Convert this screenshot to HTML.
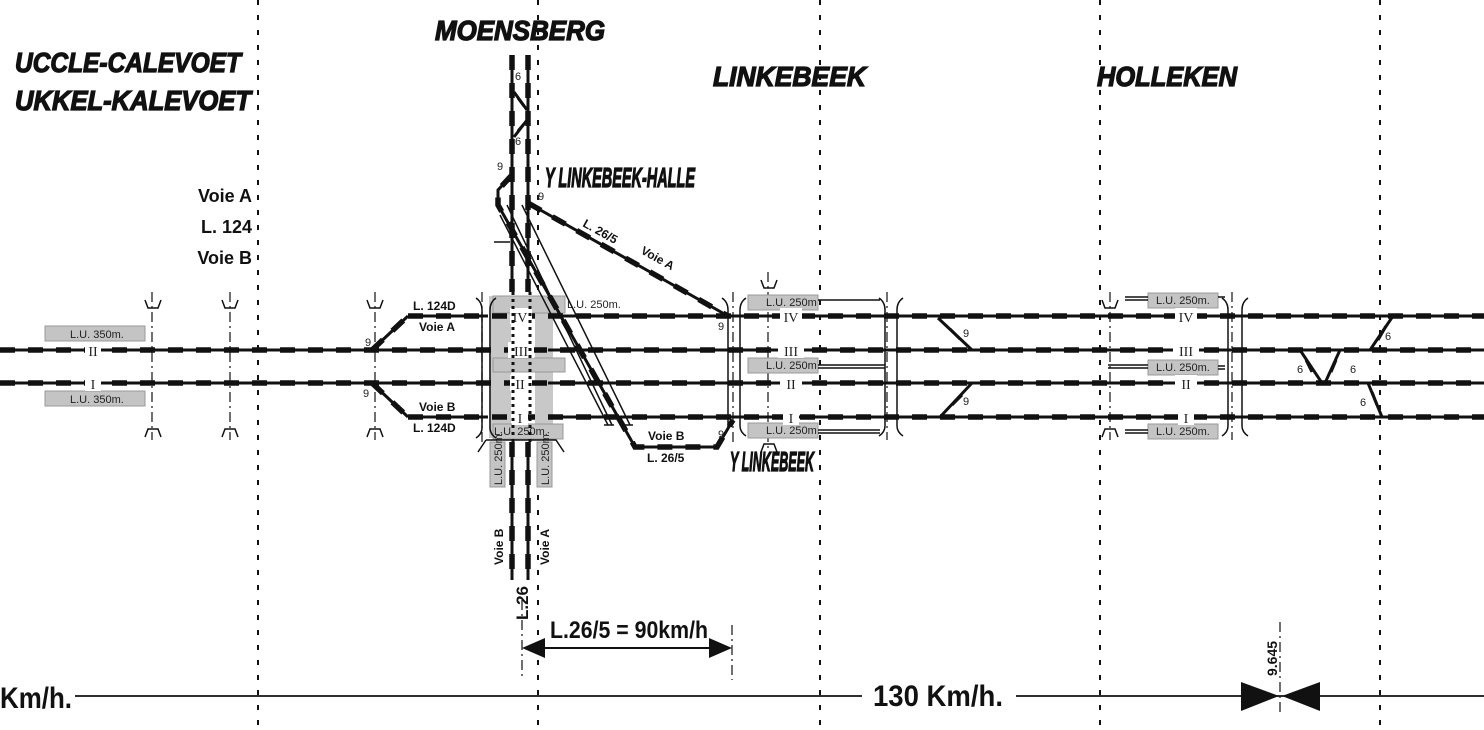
<!DOCTYPE html>
<html><head><meta charset="utf-8"><style>
html,body{margin:0;padding:0;background:#fff}
svg{display:block}
.t{stroke:#111;stroke-width:3;fill:none}
.d{stroke:#111;stroke-width:5.5;stroke-dasharray:15 13;fill:none}
.sec{stroke:#111;stroke-width:2;stroke-dasharray:5 10;fill:none}
.dd{stroke:#222;stroke-width:1.3;stroke-dasharray:10 4 2 4;fill:none}
.th{stroke:#111;stroke-width:1.5;fill:none}
.ttl{font-family:"Liberation Sans",sans-serif;font-weight:bold;font-style:italic;font-size:28px;fill:#111;stroke:#111;stroke-width:1.3}
.lb{font-family:"Liberation Sans",sans-serif;font-weight:bold;fill:#111}
.sm{font-family:"Liberation Sans",sans-serif;fill:#222;font-size:11px}
.rn{font-family:"Liberation Serif",serif;fill:#222;font-size:14px}
.gb{fill:#c4c4c4;stroke:#999;stroke-width:1}
</style></head><body>
<svg width="1484" height="730" viewBox="0 0 1484 730" xmlns="http://www.w3.org/2000/svg">
<g class="sec">
<line x1="258" y1="0" x2="258" y2="730"/><line x1="538" y1="0" x2="538" y2="730"/>
<line x1="820" y1="0" x2="820" y2="730"/><line x1="1100" y1="0" x2="1100" y2="730"/>
<line x1="1380" y1="0" x2="1380" y2="730"/>
</g>
<g class="dd">
<line x1="152" y1="292" x2="152" y2="440"/><line x1="230" y1="292" x2="230" y2="440"/>
<line x1="375" y1="292" x2="375" y2="440"/><line x1="482" y1="292" x2="482" y2="445"/>
<line x1="733" y1="292" x2="733" y2="445"/><line x1="768" y1="272" x2="768" y2="450"/>
<line x1="887" y1="292" x2="887" y2="440"/><line x1="1110" y1="292" x2="1110" y2="440"/>
<line x1="1232" y1="292" x2="1232" y2="440"/>
<line x1="522" y1="600" x2="522" y2="680"/><line x1="732" y1="625" x2="732" y2="680"/>
<line x1="1280" y1="622" x2="1280" y2="716"/>
</g>
<rect x="489" y="296" width="22" height="142" fill="#c8c8c8"/>
<rect x="535" y="296" width="18" height="142" fill="#c8c8c8"/>
<rect class="gb" x="493" y="296" width="72" height="17" fill="#dcdcdc"/>
<rect class="gb" x="493" y="358" width="72" height="14"/>
<rect class="gb" x="493" y="424" width="70" height="15" fill="#dcdcdc"/>
<text class="sm" x="567" y="308">L.U. 250m.</text>
<text class="sm" x="494" y="435">L.U. 250m.</text>
<rect class="gb" x="490" y="442" width="15" height="45"/>
<rect class="gb" x="537" y="442" width="15" height="45"/>
<text class="sm" transform="translate(502,485) rotate(-90)" font-size="10">L.U. 250m.</text>
<text class="sm" transform="translate(549,485) rotate(-90)" font-size="10">L.U. 250m.</text>
<g>
<rect class="gb" x="45" y="326" width="100" height="15"/><text class="sm" x="70" y="338">L.U. 350m.</text>
<rect class="gb" x="45" y="391" width="100" height="15"/><text class="sm" x="70" y="403">L.U. 350m.</text>
<rect class="gb" x="748" y="295" width="70" height="15"/><text class="sm" x="766" y="306">L.U. 250m</text>
<rect class="gb" x="748" y="358" width="70" height="15"/><text class="sm" x="766" y="369">L.U. 250m</text>
<rect class="gb" x="748" y="423" width="70" height="15"/><text class="sm" x="766" y="434">L.U. 250m</text>
<rect class="gb" x="1148" y="293" width="70" height="15"/><text class="sm" x="1156" y="304">L.U. 250m.</text>
<rect class="gb" x="1148" y="360" width="70" height="15"/><text class="sm" x="1156" y="371">L.U. 250m.</text>
<rect class="gb" x="1148" y="424" width="70" height="15"/><text class="sm" x="1156" y="435">L.U. 250m.</text>
</g>
<g class="th" stroke-width="1">
<path d="M818,300 H880 M818,365 H885 M818,368 H885 M818,430 H880 M818,433 H880"/>
<path d="M1125,297 H1148 M1125,300 H1148 M1108,365 H1148 M1108,368 H1148 M1125,430 H1148 M1125,433 H1148 M1218,297 H1225 M1218,366 H1225 M1218,369 H1225"/>
</g>
<g class="th" stroke-width="1.5">
<path d="M476,298 q6,4 6,12 v118 q0,6 -6,10"/><path d="M496,298 q-6,4 -6,12 v118 q0,6 6,10"/>
<path d="M722,298 q6,4 6,12 v116 q0,6 -6,10"/><path d="M746,298 q-6,4 -6,12 v116 q0,6 6,10"/>
<path d="M879,298 q6,4 6,12 v116 q0,6 -6,10"/><path d="M903,298 q-6,4 -6,12 v116 q0,6 6,10"/>
<path d="M1222,298 q6,4 6,12 v116 q0,6 -6,10"/><path d="M1248,298 q-6,4 -6,12 v116 q0,6 6,10"/>
<path d="M486,440 h70 l8,12 M486,440 l-8,12"/>
</g>
<g class="th" stroke-width="1.8">
<path d="M145,300 l3,8 h10 l3,-8 M145,437 l3,-8 h10 l3,8"/>
<path d="M222,300 l3,8 h10 l3,-8 M222,437 l3,-8 h10 l3,8"/>
<path d="M367,300 l3,8 h10 l3,-8 M367,437 l3,-8 h10 l3,8"/>
<path d="M761,280 l3,8 h10 l3,-8 M761,452 l3,-8 h10 l3,8"/>
<path d="M1102,300 l3,8 h10 l3,-8 M1102,437 l3,-8 h10 l3,8"/>
<path d="M494,242 h16"/>
</g>
<g>
<path class="t" d="M0,350 H488 M548,350 H1484 M0,383 H488 M548,383 H1484 M408,316 H488 M548,316 H1484 M408,417 H488 M548,417 H1484"/>
<path class="d" d="M0,350 H1484 M0,383 H1484 M408,316 H1484 M408,417 H1484"/>
<path class="t" d="M372,350 L408,316 M372,383 L408,417"/>
<path class="d" d="M372,350 L408,316 M372,383 L408,417" stroke-dasharray="8 8"/>
</g>
<g>
<rect x="85" y="342" width="16" height="16" fill="#fff"/><text class="rn" x="93" y="356" text-anchor="middle">II</text>
<rect x="85" y="375" width="16" height="16" fill="#fff"/><text class="rn" x="93" y="389" text-anchor="middle">I</text>
<rect x="510" y="308" width="22" height="16" fill="#fff"/><text class="rn" x="520" y="322" text-anchor="middle">IV</text>
<rect x="508" y="342" width="26" height="16" fill="#fff"/><text class="rn" x="521" y="356" text-anchor="middle">III</text>
<rect x="510" y="375" width="22" height="16" fill="#fff"/><text class="rn" x="520" y="389" text-anchor="middle">II</text>
<rect x="512" y="409" width="16" height="16" fill="#fff"/><text class="rn" x="520" y="423" text-anchor="middle">I</text>
<rect x="780" y="308" width="22" height="16" fill="#fff"/><text class="rn" x="791" y="322" text-anchor="middle">IV</text>
<rect x="778" y="342" width="26" height="16" fill="#fff"/><text class="rn" x="791" y="356" text-anchor="middle">III</text>
<rect x="780" y="375" width="22" height="16" fill="#fff"/><text class="rn" x="791" y="389" text-anchor="middle">II</text>
<rect x="783" y="409" width="16" height="16" fill="#fff"/><text class="rn" x="791" y="423" text-anchor="middle">I</text>
<rect x="1175" y="308" width="22" height="16" fill="#fff"/><text class="rn" x="1186" y="322" text-anchor="middle">IV</text>
<rect x="1173" y="342" width="26" height="16" fill="#fff"/><text class="rn" x="1186" y="356" text-anchor="middle">III</text>
<rect x="1175" y="375" width="22" height="16" fill="#fff"/><text class="rn" x="1186" y="389" text-anchor="middle">II</text>
<rect x="1178" y="409" width="16" height="16" fill="#fff"/><text class="rn" x="1186" y="423" text-anchor="middle">I</text>
</g>
<g class="t" stroke-width="2.5">
<path d="M938,318 L972,350 M940,417 L972,383 M1393,316 L1370,350 M1300,350 L1322,383 M1340,350 L1325,383 M1368,383 L1382,417"/>
</g>
<g class="t" stroke-width="6">
<path d="M950,329 L960,339 M952,405 L962,395 M1386,326 L1378,340 M1306,360 L1312,372 M1336,360 L1331,372 M1372,392 L1377,405"/>
</g>
<g>
<path class="t" d="M512,55 V292 M512,442 V580 M528,55 V292 M528,442 V580"/>
<path class="d" d="M512,55 V292 M512,442 V580 M528,55 V292 M528,442 V580" stroke-dasharray="22 12"/>
<path d="M513,292 V442 M530,292 V442" stroke="#111" stroke-width="3" stroke-dasharray="3 4"/>
<path class="t" d="M514,92 L527,110 M514,137 L527,120" stroke-width="2.5"/>
<path class="t" d="M518,98 L524,106 M518,131 L524,124" stroke-width="6"/>
</g>
<g>
<path class="t" d="M512,175 L498,190 V205 L635,447 H717 L733,420"/>
<path class="d" d="M512,175 L498,190 V205 L635,447 H717 L733,420" stroke-dasharray="14 14"/>
<path class="th" d="M507,205 L612,425 M604,425 H614 M522,205 L630,425 M622,425 H633"/>
<path class="th" d="M500,215 L608,425"/>
<path class="t" d="M528,203 L728,316"/>
<path class="d" d="M528,203 L728,316" stroke-dasharray="16 12"/>
</g>
<g class="sm" font-size="11">
<text x="515" y="80">6</text><text x="515" y="145">6</text>
<text x="497" y="170">9</text><text x="538" y="200">9</text>
<text x="365" y="346">9</text><text x="363" y="397">9</text>
<text x="718" y="330">9</text><text x="718" y="438">9</text>
<text x="963" y="337">9</text><text x="963" y="405">9</text>
<text x="1385" y="340">6</text><text x="1297" y="373">6</text><text x="1350" y="373">6</text><text x="1360" y="406">6</text>
</g>
<text class="ttl" x="520" y="40" text-anchor="middle" textLength="170" lengthAdjust="spacingAndGlyphs">MOENSBERG</text>
<text class="ttl" x="15" y="72" textLength="226" lengthAdjust="spacingAndGlyphs">UCCLE-CALEVOET</text>
<text class="ttl" x="15" y="110" textLength="236" lengthAdjust="spacingAndGlyphs">UKKEL-KALEVOET</text>
<text class="ttl" x="713" y="86" textLength="153" lengthAdjust="spacingAndGlyphs">LINKEBEEK</text>
<text class="ttl" x="1097" y="86" textLength="140" lengthAdjust="spacingAndGlyphs">HOLLEKEN</text>
<text class="ttl" x="545" y="187" font-size="15" stroke-width="0.6" textLength="150" lengthAdjust="spacingAndGlyphs">Y LINKEBEEK-HALLE</text>
<text class="ttl" x="730" y="471" font-size="15" stroke-width="0.6" textLength="84" lengthAdjust="spacingAndGlyphs">Y LINKEBEEK</text>
<g class="lb">
<text x="252" y="202" font-size="18" text-anchor="end">Voie A</text>
<text x="252" y="233" font-size="18" text-anchor="end">L. 124</text>
<text x="252" y="264" font-size="18" text-anchor="end">Voie B</text>
<text x="413" y="310" font-size="12">L. 124D</text>
<text x="419" y="331" font-size="12">Voie A</text>
<text x="419" y="411" font-size="12">Voie B</text>
<text x="413" y="432" font-size="12">L. 124D</text>
<text x="648" y="440" font-size="12">Voie B</text>
<text x="647" y="462" font-size="12">L. 26/5</text>
<text transform="translate(582,226) rotate(29)" font-size="12">L. 26/5</text>
<text transform="translate(640,253) rotate(29)" font-size="12">Voie A</text>
<text transform="translate(503,565) rotate(-90)" font-size="12">Voie B</text>
<text transform="translate(549,565) rotate(-90)" font-size="12">Voie A</text>
<text transform="translate(528,620) rotate(-90)" font-size="17">L.26</text>
<text transform="translate(1277,676) rotate(-90)" font-size="14">9.645</text>
<text x="550" y="638" font-size="24" textLength="158" lengthAdjust="spacingAndGlyphs">L.26/5 = 90km/h</text>
<text x="0" y="708" font-size="30" textLength="72" lengthAdjust="spacingAndGlyphs">Km/h.</text>
<text x="873" y="706" font-size="30" textLength="130" lengthAdjust="spacingAndGlyphs">130 Km/h.</text>
</g>
<path d="M75,696 H862 M1016,696 H1484" stroke="#111" stroke-width="1.8"/>
<path d="M540,648 H715" stroke="#111" stroke-width="2"/>
<path d="M522,648 L545,638 V658 Z M732,648 L709,638 V658 Z" fill="#111"/>
<path d="M1241,682 L1279,696 L1241,711 Z M1320,682 L1282,696 L1320,711 Z" fill="#111"/>
</svg>
</body></html>
